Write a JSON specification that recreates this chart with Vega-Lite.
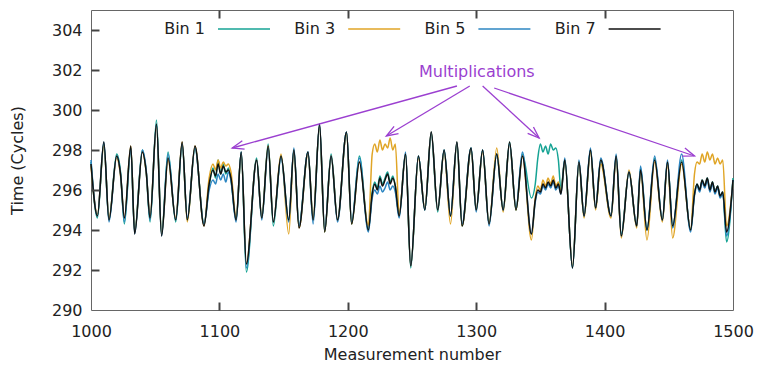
{
  "$schema": "https://vega.github.io/schema/vega-lite/v6.json",
  "width": 642,
  "height": 300,
  "autosize": "none",
  "padding": {"left": 91, "top": 10, "right": 27, "bottom": 57},
  "background": "white",
  "config": {
    "font": "DejaVu Sans",
    "view": {"stroke": "#666", "strokeWidth": 1},
    "axis": {
      "labelFont": "DejaVu Sans", "labelFontSize": 16, "labelColor": "#222",
      "titleFont": "DejaVu Sans", "titleFontSize": 16, "titleFontWeight": "normal", "titleColor": "#222",
      "grid": false, "domainColor": "#666", "labelFlush": false
    }
  },
  "resolve": {"axis": {"x": "independent", "y": "independent"}},
  "layer": [
    {
      "data": {"values": [
        {"x":1000,"Bin 1":297.4,"Bin 3":297.2,"Bin 5":297.5,"Bin 7":297.3},
        {"x":1005,"Bin 1":294.6,"Bin 3":294.8,"Bin 5":294.7,"Bin 7":294.7},
        {"x":1010,"Bin 1":298.3,"Bin 3":298.2,"Bin 5":298.4,"Bin 7":298.4},
        {"x":1014,"Bin 1":294.5,"Bin 3":294.6,"Bin 5":294.4,"Bin 7":294.5},
        {"x":1020,"Bin 1":297.8,"Bin 3":297.6,"Bin 5":297.7,"Bin 7":297.7},
        {"x":1023,"Bin 1":296.9,"Bin 3":296.7,"Bin 5":296.8,"Bin 7":296.8},
        {"x":1026,"Bin 1":294.3,"Bin 3":294.6,"Bin 5":294.4,"Bin 7":294.6},
        {"x":1031,"Bin 1":298.1,"Bin 3":298.2,"Bin 5":298.1,"Bin 7":298.2},
        {"x":1034,"Bin 1":293.9,"Bin 3":293.9,"Bin 5":293.8,"Bin 7":293.8},
        {"x":1040,"Bin 1":298.0,"Bin 3":297.9,"Bin 5":298.0,"Bin 7":297.9},
        {"x":1043,"Bin 1":296.9,"Bin 3":296.9,"Bin 5":297.0,"Bin 7":296.9},
        {"x":1046,"Bin 1":294.4,"Bin 3":294.7,"Bin 5":294.5,"Bin 7":294.6},
        {"x":1051,"Bin 1":299.5,"Bin 3":299.2,"Bin 5":299.3,"Bin 7":299.3},
        {"x":1055,"Bin 1":293.8,"Bin 3":293.8,"Bin 5":293.7,"Bin 7":293.7},
        {"x":1060,"Bin 1":297.9,"Bin 3":297.5,"Bin 5":297.8,"Bin 7":297.6},
        {"x":1066,"Bin 1":294.4,"Bin 3":294.6,"Bin 5":294.5,"Bin 7":294.5},
        {"x":1071,"Bin 1":298.3,"Bin 3":298.4,"Bin 5":298.3,"Bin 7":298.4},
        {"x":1075,"Bin 1":294.5,"Bin 3":294.4,"Bin 5":294.6,"Bin 7":294.5},
        {"x":1081,"Bin 1":298.1,"Bin 3":298.2,"Bin 5":298.1,"Bin 7":298.2},
        {"x":1088,"Bin 1":294.3,"Bin 3":294.2,"Bin 5":294.3,"Bin 7":294.2},
        {"x":1092,"Bin 1":296.2,"Bin 3":296.6,"Bin 5":296.0,"Bin 7":296.3},
        {"x":1095,"Bin 1":297.1,"Bin 3":297.3,"Bin 5":296.5,"Bin 7":297.0},
        {"x":1097,"Bin 1":296.6,"Bin 3":297.0,"Bin 5":296.3,"Bin 7":296.7},
        {"x":1099,"Bin 1":297.5,"Bin 3":297.5,"Bin 5":296.8,"Bin 7":297.3},
        {"x":1101,"Bin 1":296.8,"Bin 3":297.1,"Bin 5":296.5,"Bin 7":296.8},
        {"x":1103,"Bin 1":297.3,"Bin 3":297.4,"Bin 5":296.8,"Bin 7":297.2},
        {"x":1105,"Bin 1":296.8,"Bin 3":297.2,"Bin 5":296.4,"Bin 7":296.9},
        {"x":1107,"Bin 1":297.1,"Bin 3":297.3,"Bin 5":296.9,"Bin 7":297.0},
        {"x":1109,"Bin 1":296.5,"Bin 3":296.9,"Bin 5":296.5,"Bin 7":296.6},
        {"x":1113,"Bin 1":294.5,"Bin 3":294.6,"Bin 5":294.4,"Bin 7":294.5},
        {"x":1117,"Bin 1":297.9,"Bin 3":297.8,"Bin 5":297.9,"Bin 7":297.9},
        {"x":1121,"Bin 1":291.9,"Bin 3":292.3,"Bin 5":292.1,"Bin 7":292.3},
        {"x":1129,"Bin 1":297.6,"Bin 3":297.5,"Bin 5":297.5,"Bin 7":297.5},
        {"x":1133,"Bin 1":294.6,"Bin 3":294.6,"Bin 5":294.5,"Bin 7":294.6},
        {"x":1138,"Bin 1":298.3,"Bin 3":298.2,"Bin 5":298.1,"Bin 7":298.2},
        {"x":1142,"Bin 1":294.2,"Bin 3":294.4,"Bin 5":294.4,"Bin 7":294.4},
        {"x":1148,"Bin 1":297.7,"Bin 3":297.8,"Bin 5":297.6,"Bin 7":297.7},
        {"x":1154,"Bin 1":294.5,"Bin 3":293.8,"Bin 5":294.4,"Bin 7":294.5},
        {"x":1158,"Bin 1":298.0,"Bin 3":298.0,"Bin 5":298.1,"Bin 7":298.0},
        {"x":1162,"Bin 1":294.2,"Bin 3":294.1,"Bin 5":294.2,"Bin 7":294.1},
        {"x":1169,"Bin 1":297.9,"Bin 3":297.8,"Bin 5":297.9,"Bin 7":297.9},
        {"x":1173,"Bin 1":294.5,"Bin 3":294.6,"Bin 5":294.3,"Bin 7":294.5},
        {"x":1178,"Bin 1":299.2,"Bin 3":299.2,"Bin 5":299.3,"Bin 7":299.3},
        {"x":1182,"Bin 1":293.9,"Bin 3":293.9,"Bin 5":294.0,"Bin 7":293.9},
        {"x":1187,"Bin 1":297.8,"Bin 3":297.7,"Bin 5":297.7,"Bin 7":297.7},
        {"x":1192,"Bin 1":294.5,"Bin 3":294.5,"Bin 5":294.4,"Bin 7":294.5},
        {"x":1199,"Bin 1":298.9,"Bin 3":298.8,"Bin 5":298.9,"Bin 7":298.9},
        {"x":1203,"Bin 1":294.3,"Bin 3":294.3,"Bin 5":294.4,"Bin 7":294.3},
        {"x":1209,"Bin 1":297.7,"Bin 3":297.4,"Bin 5":297.6,"Bin 7":297.4},
        {"x":1216,"Bin 1":294.0,"Bin 3":294.2,"Bin 5":293.9,"Bin 7":294.0},
        {"x":1219,"Bin 1":295.9,"Bin 3":297.8,"Bin 5":295.6,"Bin 7":295.8},
        {"x":1221,"Bin 1":296.4,"Bin 3":298.3,"Bin 5":296.0,"Bin 7":296.3},
        {"x":1223,"Bin 1":296.1,"Bin 3":297.9,"Bin 5":295.8,"Bin 7":296.0},
        {"x":1225,"Bin 1":296.7,"Bin 3":298.5,"Bin 5":296.2,"Bin 7":296.6},
        {"x":1227,"Bin 1":296.3,"Bin 3":298.0,"Bin 5":295.9,"Bin 7":296.2},
        {"x":1229,"Bin 1":296.6,"Bin 3":298.3,"Bin 5":296.1,"Bin 7":296.5},
        {"x":1231,"Bin 1":296.9,"Bin 3":298.1,"Bin 5":296.4,"Bin 7":296.8},
        {"x":1233,"Bin 1":296.4,"Bin 3":298.6,"Bin 5":296.0,"Bin 7":296.3},
        {"x":1235,"Bin 1":296.7,"Bin 3":298.0,"Bin 5":296.2,"Bin 7":296.6},
        {"x":1237,"Bin 1":296.2,"Bin 3":298.3,"Bin 5":295.9,"Bin 7":296.2},
        {"x":1240,"Bin 1":294.7,"Bin 3":294.8,"Bin 5":294.6,"Bin 7":294.7},
        {"x":1245,"Bin 1":297.8,"Bin 3":297.8,"Bin 5":297.9,"Bin 7":297.8},
        {"x":1249,"Bin 1":292.1,"Bin 3":292.2,"Bin 5":292.2,"Bin 7":292.2},
        {"x":1255,"Bin 1":297.7,"Bin 3":297.6,"Bin 5":297.7,"Bin 7":297.7},
        {"x":1260,"Bin 1":295.0,"Bin 3":295.1,"Bin 5":295.0,"Bin 7":295.0},
        {"x":1265,"Bin 1":298.8,"Bin 3":298.9,"Bin 5":298.9,"Bin 7":298.9},
        {"x":1270,"Bin 1":294.9,"Bin 3":295.0,"Bin 5":295.0,"Bin 7":295.0},
        {"x":1275,"Bin 1":298.0,"Bin 3":297.9,"Bin 5":298.0,"Bin 7":298.0},
        {"x":1280,"Bin 1":294.7,"Bin 3":294.3,"Bin 5":294.7,"Bin 7":294.7},
        {"x":1285,"Bin 1":298.3,"Bin 3":298.4,"Bin 5":298.4,"Bin 7":298.4},
        {"x":1289,"Bin 1":294.2,"Bin 3":294.2,"Bin 5":294.3,"Bin 7":294.2},
        {"x":1296,"Bin 1":298.1,"Bin 3":298.0,"Bin 5":298.1,"Bin 7":298.1},
        {"x":1300,"Bin 1":295.0,"Bin 3":295.0,"Bin 5":294.9,"Bin 7":295.0},
        {"x":1305,"Bin 1":298.0,"Bin 3":297.9,"Bin 5":298.0,"Bin 7":298.0},
        {"x":1310,"Bin 1":294.3,"Bin 3":294.3,"Bin 5":294.2,"Bin 7":294.3},
        {"x":1316,"Bin 1":297.8,"Bin 3":298.1,"Bin 5":297.8,"Bin 7":297.8},
        {"x":1321,"Bin 1":295.0,"Bin 3":294.9,"Bin 5":295.0,"Bin 7":295.0},
        {"x":1326,"Bin 1":298.4,"Bin 3":298.3,"Bin 5":298.3,"Bin 7":298.4},
        {"x":1331,"Bin 1":295.0,"Bin 3":295.0,"Bin 5":295.1,"Bin 7":295.0},
        {"x":1336,"Bin 1":297.8,"Bin 3":297.7,"Bin 5":297.9,"Bin 7":297.7},
        {"x":1343,"Bin 1":295.6,"Bin 3":293.5,"Bin 5":293.8,"Bin 7":293.8},
        {"x":1346,"Bin 1":296.3,"Bin 3":295.6,"Bin 5":295.4,"Bin 7":295.5},
        {"x":1348,"Bin 1":297.6,"Bin 3":296.2,"Bin 5":295.9,"Bin 7":296.0},
        {"x":1350,"Bin 1":298.3,"Bin 3":296.0,"Bin 5":295.8,"Bin 7":295.9},
        {"x":1352,"Bin 1":297.9,"Bin 3":296.5,"Bin 5":296.2,"Bin 7":296.3},
        {"x":1354,"Bin 1":298.2,"Bin 3":296.2,"Bin 5":296.0,"Bin 7":296.1},
        {"x":1356,"Bin 1":297.8,"Bin 3":296.6,"Bin 5":296.3,"Bin 7":296.4},
        {"x":1358,"Bin 1":298.3,"Bin 3":296.3,"Bin 5":296.1,"Bin 7":296.2},
        {"x":1360,"Bin 1":298.0,"Bin 3":296.7,"Bin 5":296.4,"Bin 7":296.5},
        {"x":1362,"Bin 1":298.1,"Bin 3":296.2,"Bin 5":296.0,"Bin 7":296.1},
        {"x":1364,"Bin 1":297.5,"Bin 3":296.4,"Bin 5":296.2,"Bin 7":296.3},
        {"x":1366,"Bin 1":296.0,"Bin 3":295.9,"Bin 5":295.8,"Bin 7":295.8},
        {"x":1369,"Bin 1":297.5,"Bin 3":297.5,"Bin 5":297.6,"Bin 7":297.5},
        {"x":1375,"Bin 1":292.1,"Bin 3":292.2,"Bin 5":292.1,"Bin 7":292.1},
        {"x":1380,"Bin 1":297.4,"Bin 3":297.4,"Bin 5":297.5,"Bin 7":297.4},
        {"x":1384,"Bin 1":294.7,"Bin 3":294.6,"Bin 5":294.7,"Bin 7":294.7},
        {"x":1389,"Bin 1":298.0,"Bin 3":297.9,"Bin 5":298.1,"Bin 7":298.0},
        {"x":1393,"Bin 1":295.1,"Bin 3":295.0,"Bin 5":295.1,"Bin 7":295.1},
        {"x":1397,"Bin 1":297.5,"Bin 3":297.3,"Bin 5":297.6,"Bin 7":297.5},
        {"x":1405,"Bin 1":294.7,"Bin 3":294.6,"Bin 5":294.7,"Bin 7":294.7},
        {"x":1409,"Bin 1":297.7,"Bin 3":297.6,"Bin 5":297.8,"Bin 7":297.7},
        {"x":1413,"Bin 1":293.8,"Bin 3":293.6,"Bin 5":293.7,"Bin 7":293.7},
        {"x":1419,"Bin 1":296.9,"Bin 3":297.0,"Bin 5":296.9,"Bin 7":296.9},
        {"x":1425,"Bin 1":294.2,"Bin 3":294.1,"Bin 5":294.2,"Bin 7":294.2},
        {"x":1428,"Bin 1":297.1,"Bin 3":297.0,"Bin 5":297.2,"Bin 7":297.0},
        {"x":1433,"Bin 1":294.0,"Bin 3":293.5,"Bin 5":294.0,"Bin 7":294.0},
        {"x":1439,"Bin 1":297.6,"Bin 3":297.4,"Bin 5":297.7,"Bin 7":297.5},
        {"x":1445,"Bin 1":294.5,"Bin 3":294.4,"Bin 5":294.5,"Bin 7":294.5},
        {"x":1449,"Bin 1":297.4,"Bin 3":297.3,"Bin 5":297.5,"Bin 7":297.4},
        {"x":1453,"Bin 1":294.2,"Bin 3":293.6,"Bin 5":294.1,"Bin 7":294.2},
        {"x":1460,"Bin 1":297.5,"Bin 3":297.3,"Bin 5":297.8,"Bin 7":297.4},
        {"x":1467,"Bin 1":294.0,"Bin 3":294.0,"Bin 5":293.9,"Bin 7":294.0},
        {"x":1470,"Bin 1":295.8,"Bin 3":296.8,"Bin 5":295.7,"Bin 7":295.8},
        {"x":1472,"Bin 1":296.3,"Bin 3":297.4,"Bin 5":296.2,"Bin 7":296.3},
        {"x":1474,"Bin 1":296.0,"Bin 3":297.3,"Bin 5":295.9,"Bin 7":296.0},
        {"x":1476,"Bin 1":296.5,"Bin 3":297.8,"Bin 5":296.4,"Bin 7":296.5},
        {"x":1478,"Bin 1":296.2,"Bin 3":297.4,"Bin 5":296.1,"Bin 7":296.2},
        {"x":1480,"Bin 1":296.6,"Bin 3":297.9,"Bin 5":296.5,"Bin 7":296.6},
        {"x":1482,"Bin 1":296.0,"Bin 3":297.5,"Bin 5":295.9,"Bin 7":296.0},
        {"x":1484,"Bin 1":296.4,"Bin 3":297.8,"Bin 5":296.3,"Bin 7":296.4},
        {"x":1486,"Bin 1":295.9,"Bin 3":297.3,"Bin 5":295.8,"Bin 7":295.9},
        {"x":1488,"Bin 1":296.2,"Bin 3":297.6,"Bin 5":296.1,"Bin 7":296.2},
        {"x":1490,"Bin 1":295.7,"Bin 3":297.3,"Bin 5":295.6,"Bin 7":295.7},
        {"x":1492,"Bin 1":295.9,"Bin 3":297.5,"Bin 5":295.8,"Bin 7":295.9},
        {"x":1495,"Bin 1":293.4,"Bin 3":294.2,"Bin 5":293.7,"Bin 7":293.9},
        {"x":1500,"Bin 1":296.6,"Bin 3":296.4,"Bin 5":296.5,"Bin 7":296.5}
      ]},
      "transform": [{"fold": ["Bin 1", "Bin 3", "Bin 5", "Bin 7"], "as": ["bin", "t"]}],
      "mark": {"type": "line", "interpolate": "monotone", "strokeWidth": 1.5},
      "encoding": {
        "x": {"field": "x", "type": "quantitative",
              "scale": {"domain": [1000, 1500], "nice": false, "zero": false},
              "axis": {"orient": "bottom", "values": [1000, 1100, 1200, 1300, 1400, 1500], "format": "d",
                       "ticks": false, "tickSize": 0, "domain": false,
                       "title": "Measurement number", "labelPadding": 13, "titlePadding": 7}},
        "y": {"field": "t", "type": "quantitative",
              "scale": {"domain": [290, 305], "nice": false, "zero": false},
              "axis": {"orient": "left", "values": [290, 292, 294, 296, 298, 300, 302, 304], "format": "d",
                       "ticks": false, "tickSize": 0, "domain": false,
                       "title": "Time (Cycles)", "labelPadding": 9, "titlePadding": 26}},
        "color": {"field": "bin", "type": "nominal",
                  "scale": {"domain": ["Bin 1", "Bin 3", "Bin 5", "Bin 7"],
                            "range": ["#16a394", "#e0a526", "#2c86c2", "#111111"]},
                  "legend": {"orient": "none", "legendX": 126, "legendY": -8, "direction": "horizontal",
                             "title": null, "symbolType": "stroke", "symbolSize": 2704, "symbolStrokeWidth": 1.5,
                             "labelFont": "DejaVu Sans", "labelFontSize": 16, "labelColor": "#222",
                             "labelAlign": "right", "labelOffset": -66, "columnPadding": 21.2, "padding": 0}}
      }
    },
    {
      "data": {"values": [
        {"x": 1285, "y": 301.2, "x2": 1110, "y2": 298.1, "a": 254.6},
        {"x": 1295, "y": 301.2, "x2": 1230, "y2": 298.7, "a": 239.1},
        {"x": 1305, "y": 301.2, "x2": 1349, "y2": 298.6, "a": 132.6},
        {"x": 1314, "y": 301.1, "x2": 1470, "y2": 297.7, "a": 109.3}
      ]},
      "mark": {"type": "rule", "color": "#9b3fd0", "strokeWidth": 1.3},
      "encoding": {
        "x": {"field": "x", "type": "quantitative",
              "axis": {"orient": "bottom", "offset": -8, "tickSize": 8, "ticks": true, "tickColor": "#444", "tickWidth": 2, "zindex": 2, "values": [1100, 1200, 1300, 1400],
                       "labels": false, "domain": false, "title": null}},
        "y": {"field": "y", "type": "quantitative",
              "axis": {"orient": "left", "offset": -8, "tickSize": 8, "ticks": true, "tickColor": "#444", "tickWidth": 2, "zindex": 2, "values": [292, 294, 296, 298, 300, 302, 304],
                       "labels": false, "domain": false, "title": null}},
        "x2": {"field": "x2"},
        "y2": {"field": "y2"}
      }
    },
    {
      "data": {"values": [
        {"x": 1285, "y": 301.2, "x2": 1110, "y2": 298.1, "a": 254.6},
        {"x": 1295, "y": 301.2, "x2": 1230, "y2": 298.7, "a": 239.1},
        {"x": 1305, "y": 301.2, "x2": 1349, "y2": 298.6, "a": 132.6},
        {"x": 1314, "y": 301.1, "x2": 1470, "y2": 297.7, "a": 109.3}
      ]},
      "mark": {"type": "point", "shape": "M-0.7,1.9L0,0L0.7,1.9", "filled": false, "size": 150, "stroke": "#9b3fd0", "strokeWidth": 1.3, "opacity": 1},
      "encoding": {
        "x": {"field": "x2", "type": "quantitative",
              "axis": {"orient": "top", "offset": -8, "tickSize": 8, "ticks": true, "tickColor": "#444", "tickWidth": 2, "zindex": 2, "values": [1100, 1200, 1300, 1400],
                       "labels": false, "domain": false, "title": null}},
        "y": {"field": "y2", "type": "quantitative", "axis": null},
        "angle": {"field": "a", "type": "quantitative", "scale": null}
      }
    },
    {
      "data": {"values": [{"x": 1300.5, "y": 301.9, "label": "Multiplications"}]},
      "mark": {"type": "text", "font": "DejaVu Sans", "fontSize": 16, "color": "#9b3fd0", "align": "center", "baseline": "middle"},
      "encoding": {
        "x": {"field": "x", "type": "quantitative", "axis": null},
        "y": {"field": "y", "type": "quantitative", "axis": null},
        "text": {"field": "label"}
      }
    }
  ]
}
